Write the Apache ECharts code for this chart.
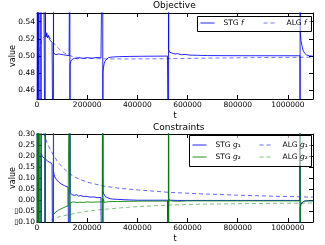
<!DOCTYPE html>
<html><head><meta charset="utf-8">
<script src="https://cdn.jsdelivr.net/npm/echarts@6/dist/echarts.min.js"></script>
<style>html,body{margin:0;padding:0;background:#fff}#c{width:325px;height:245px}</style>
</head><body><div id="c"></div>
<script>
// ---- tick values ----
const xTicks = [0, 200000, 400000, 600000, 800000, 1000000];
const fTicks = [0.46, 0.48, 0.50, 0.52, 0.54];
const gTicks = [-0.10, -0.05, 0.00, 0.05, 0.10, 0.15, 0.20, 0.25, 0.30];

// ---- Objective: STG f ----
const stgFT = [0,1500,3000,4500,6000,8192,8192,9500,11000,13000,15000,16384,16384,18000,21000,24000,28000,32768,32768,34000,36000,39000,42000,46000,50000,55000,60000,65000,65536,65536,66000,67000,68000,70000,72000,75000,78000,82000,86000,90000,95000,100000,105000,110000,116000,122000,128000,131072,131072,132000,134000,137000,140000,145000,150000,160000,170000,185000,200000,220000,240000,255000,261500,262144,262144,263000,265000,268000,272000,278000,285000,300000,330000,370000,420000,470000,520000,524000,524288,524288,525000,528000,532000,537000,543000,550000,560000,575000,590000,610000,640000,680000,750000,850000,950000,1040000,1048000,1048576,1048576,1049500,1052000,1056000,1060000,1066000,1074000,1085000,1100000];
const stgF  = [0.30,0.70,0.42,0.65,0.56,0.30,0.70,0.565,0.552,0.560,0.553,0.30,0.70,0.560,0.551,0.556,0.549,0.30,0.70,0.528,0.522,0.527,0.521,0.524,0.519,0.521,0.516,0.517,0.30,0.70,0.5035,0.5025,0.5036,0.5018,0.5032,0.5015,0.5028,0.5012,0.5024,0.5008,0.5019,0.5005,0.5014,0.5002,0.5009,0.4998,0.5004,0.70,0.30,0.490,0.4935,0.4925,0.4960,0.4952,0.4975,0.4968,0.4980,0.4972,0.4981,0.4975,0.4983,0.4978,0.4979,0.70,0.30,0.481,0.487,0.4915,0.4945,0.4965,0.4982,0.4988,0.4993,0.4995,0.4997,0.4998,0.4999,0.4999,0.30,0.70,0.5075,0.5045,0.5055,0.5035,0.5040,0.5022,0.5028,0.5015,0.5018,0.5010,0.5008,0.5005,0.5004,0.5003,0.5003,0.5003,0.5003,0.30,0.70,0.5275,0.518,0.512,0.507,0.5035,0.5012,0.5002,0.4998];

// ---- Objective: ALG f ----
const algFT = [0,3000,6000,9000,13000,18000,24000,30000,36000,42000,48000,55000,65000,75000,85000,95000,110000,125000,140000,160000,180000,210000,250000,300000,400000,500000,600000,700000,800000,900000,1000000,1100000];
const algF  = [0.40,0.46,0.49,0.503,0.512,0.518,0.521,0.523,0.5245,0.5245,0.5225,0.5195,0.5155,0.512,0.509,0.5065,0.5035,0.5012,0.4995,0.4983,0.4976,0.4971,0.4968,0.4966,0.4966,0.4968,0.4972,0.4976,0.4979,0.4982,0.4984,0.4986];

// ---- Constraints: STG g1 ----
const stgG1T = [0,1500,3000,5000,8192,8192,10000,13000,16384,16384,16500,17500,19000,21000,23000,25000,28000,31000,32768,32768,34000,37000,40000,43000,47000,51000,55000,60000,64000,65536,65536,66000,68000,71000,74000,78000,82000,87000,92000,98000,104000,110000,117000,124000,130000,131072,131072,132000,134000,137000,140000,145000,150000,158000,166000,175000,185000,195000,210000,225000,240000,255000,261500,262144,262144,263000,265000,268000,272000,277000,284000,292000,302000,320000,350000,400000,450000,520000,524000,524288,524288,525000,528000,533000,540000,560000,600000,700000,800000,900000,1040000,1048000,1048576,1048576,1049500,1052000,1056000,1062000,1070000,1085000,1100000];
const stgG1  = [1.0,-1.0,1.0,0.32,-1.0,1.0,0.35,0.32,1.0,-1.0,0.212,0.205,0.208,0.198,0.201,0.193,0.195,0.188,-1.0,1.0,0.186,0.180,0.184,0.176,0.178,0.171,0.173,0.165,0.166,-1.0,1.0,0.130,0.115,0.105,0.097,0.092,0.085,0.081,0.076,0.072,0.068,0.065,0.061,0.058,0.056,-1.0,1.0,0.032,0.027,0.030,0.024,0.027,0.021,0.024,0.018,0.020,0.016,0.017,0.013,0.014,0.011,0.011,0.010,-1.0,1.0,0.042,0.030,0.022,0.016,0.012,0.009,0.006,0.004,0.003,0.001,-0.001,-0.001,-0.001,-0.001,-1.0,1.0,0.002,-0.004,-0.001,-0.003,-0.002,-0.002,-0.002,-0.002,-0.002,-0.002,-0.002,1.0,-1.0,-0.036,-0.020,-0.012,-0.007,-0.004,-0.003,-0.003];

// ---- Constraints: STG g2 ----
const stgG2T = [0,1000,2000,3500,5000,6500,8192,8300,12000,16384,16384,16500,32768,32768,32900,60000,65536,65536,66000,68000,71000,75000,80000,86000,93000,100000,108000,116000,124000,130000,131072,131072,132000,134000,137000,141000,146000,152000,160000,170000,185000,200000,220000,240000,260000,262144,262144,263000,265000,268000,272000,278000,290000,320000,370000,430000,500000,523500,524288,524288,525000,528000,533000,540000,560000,600000,700000,850000,1040000,1048000,1048576,1048576,1049500,1052000,1057000,1065000,1080000,1100000];
const stgG2  = [1.0,-1.0,1.0,-1.0,1.0,-1.0,1.0,-1.0,-0.2,-0.3,1.0,-0.3,-0.3,1.0,-0.3,-0.25,-0.3,1.0,-0.066,-0.062,-0.058,-0.054,-0.050,-0.046,-0.042,-0.038,-0.034,-0.030,-0.027,-0.025,1.0,-1.0,-0.015,-0.006,-0.013,-0.009,-0.012,-0.010,-0.012,-0.010,-0.011,-0.009,-0.010,-0.009,-0.009,1.0,-1.0,-0.020,0.005,-0.012,-0.006,-0.009,-0.007,-0.007,-0.006,-0.005,-0.005,-0.005,1.0,-1.0,-0.014,-0.002,-0.008,-0.005,-0.006,-0.004,-0.004,-0.004,-0.004,-0.004,1.0,-1.0,-0.030,-0.015,-0.008,-0.005,-0.004,-0.004];

// ---- Constraints: ALG g1 / g2 ----
const algG1T = [5000,10000,15000,20000,27000,35000,45000,55000,65000,80000,100000,131000,160000,200000,262000,330000,400000,524000,650000,800000,950000,1100000];
const algG1  = [0.40,0.37,0.35,0.33,0.30,0.275,0.248,0.225,0.205,0.178,0.150,0.118,0.099,0.081,0.064,0.053,0.046,0.035,0.028,0.022,0.017,0.013];
const algG2T = [5000,20000,35000,44000,55000,65000,80000,100000,131000,160000,200000,262000,330000,400000,524000,650000,800000,950000,1100000];
const algG2  = [-0.40,-0.20,-0.13,-0.10,-0.092,-0.086,-0.079,-0.073,-0.066,-0.059,-0.051,-0.043,-0.036,-0.030,-0.023,-0.019,-0.017,-0.015,-0.014];

const pair = (t, v) => t.map((x, i) => [x, v[i]]);
const FONT = 'DejaVu Sans';
const BLUE = '#0000ff', GREEN = '#008000';

function xAx(grid, pos, labels) {
  return {
    type: 'value', gridIndex: grid, position: pos, min: 0, max: 1100000,
    name: labels ? 't' : '', nameLocation: 'middle', nameGap: 13, nameMoveOverlap: false,
    nameTextStyle: { fontSize: 8, fontFamily: FONT, color: '#000' },
    axisLine: { show: true, onZero: false, lineStyle: { color: '#000', width: 1 } },
    axisTick: { show: true, inside: true, length: 4, customValues: xTicks, lineStyle: { color: '#000' } },
    axisLabel: { show: labels, customValues: xTicks, fontSize: 7.5, fontFamily: FONT, color: '#000', margin: 2, formatter: v => String(v) },
    splitLine: { show: false }
  };
}
function yAx(grid, pos, labels, min, max, ticks) {
  return {
    type: 'value', gridIndex: grid, position: pos, min: min, max: max,
    name: labels ? 'value' : '', nameLocation: 'middle', nameGap: 20, nameMoveOverlap: false,
    nameTextStyle: { fontSize: 8, fontFamily: FONT, color: '#000' },
    axisLine: { show: true, onZero: false, lineStyle: { color: '#000', width: 1 } },
    axisTick: { show: true, inside: true, length: 4, customValues: ticks, lineStyle: { color: '#000' } },
    axisLabel: { show: labels, customValues: ticks, fontSize: 7.5, fontFamily: FONT, color: '#000', margin: 2,
      formatter: v => (v < -1e-9 ? '\u25AF' : '') + Math.abs(v).toFixed(2) },
    splitLine: { show: false }
  };
}

function line(name, data, xi, yi, color, dashed, op) {
  return {
    name: name, type: 'line', xAxisIndex: xi, yAxisIndex: yi, data: data,
    symbol: 'none', showSymbol: false, clip: true, animation: false,
    lineStyle: { color: color, width: 1, type: dashed ? [4, 3] : 'solid', opacity: op },
    itemStyle: { color: color }
  };
}

const legFmt = {
  'STG f': '{p|}{a|STG }{i|f}',
  'ALG f': '{p|}{a|ALG }{i|f}',
  'STG g1': '{p|}{a|STG }{i|g}{a|\u2081}',
  'STG g2': '{p|}{a|STG }{i|g}{a|\u2082}',
  'ALG g1': '{p|}{a|ALG }{i|g}{a|\u2081}',
  'ALG g2': '{p|}{a|ALG }{i|g}{a|\u2082}'
};
function leg(names, left, top, w) {
  return {
    data: names, left: left, top: top, orient: 'vertical', padding: 0, itemGap: 4,
    itemWidth: w, itemHeight: 8, z: 10, selectedMode: false,
    itemStyle: { opacity: 0, borderWidth: 0 },
    lineStyle: { width: 1 },
    formatter: n => legFmt[n],
    textStyle: { fontSize: 7.5, fontFamily: FONT, color: '#000',
      rich: { p: { width: 4 }, a: { fontSize: 7.5, fontFamily: FONT }, i: { fontSize: 7.5, fontFamily: FONT, fontStyle: 'italic' } } }
  };
}

const chart = echarts.init(document.getElementById('c'), null, { renderer: 'canvas' });
chart.setOption({
  animation: false,
  backgroundColor: '#fff',
  title: [
    { text: 'Objective', left: 153, top: 1, padding: 0, textStyle: { fontSize: 9, fontWeight: 'normal', fontFamily: FONT, color: '#000' } },
    { text: 'Constraints', left: 153, top: 123, padding: 0, textStyle: { fontSize: 9, fontWeight: 'normal', fontFamily: FONT, color: '#000' } }
  ],
  grid: [
    { left: 37, right: 12, top: 13, height: 86, containLabel: false, outerBoundsMode: 'none' },
    { left: 37, right: 12, top: 134, height: 88, containLabel: false, outerBoundsMode: 'none' }
  ],
  xAxis: [xAx(0, 'bottom', true), xAx(0, 'top', false), xAx(1, 'bottom', true), xAx(1, 'top', false)],
  yAxis: [yAx(0, 'left', true, 0.45, 0.55, fTicks), yAx(0, 'right', false, 0.45, 0.55, fTicks),
          yAx(1, 'left', true, -0.10, 0.30, gTicks), yAx(1, 'right', false, -0.10, 0.30, gTicks)],
  legend: [leg(['STG f'], 200, 19, 14), leg(['ALG f'], 263, 19, 14), leg(['STG g1', 'STG g2'], 192, 141, 14), leg(['ALG g1', 'ALG g2'], 259, 141, 14)],
  graphic: [
    { type: 'rect', z: 5, shape: { x: 197.5, y: 16.5, width: 114, height: 15 }, style: { fill: 'rgba(255,255,255,0.6)', stroke: '#000', lineWidth: 1 } },
    { type: 'rect', z: 5, shape: { x: 189.5, y: 135.5, width: 122, height: 31 }, style: { fill: 'rgba(255,255,255,0.6)', stroke: '#000', lineWidth: 1 } }
  ],
  series: [
    line('ALG f', pair(algFT, algF), 0, 0, BLUE, true, 0.55),
    line('STG f', pair(stgFT, stgF), 0, 0, BLUE, false, 0.85),
    line('ALG g1', pair(algG1T, algG1), 2, 2, BLUE, true, 0.6),
    line('ALG g2', pair(algG2T, algG2), 2, 2, GREEN, true, 0.5),
    line('STG g1', pair(stgG1T, stgG1), 2, 2, BLUE, false, 0.85),
    line('STG g2', pair(stgG2T, stgG2), 2, 2, GREEN, false, 0.85)
  ]
});
</script></body></html>
